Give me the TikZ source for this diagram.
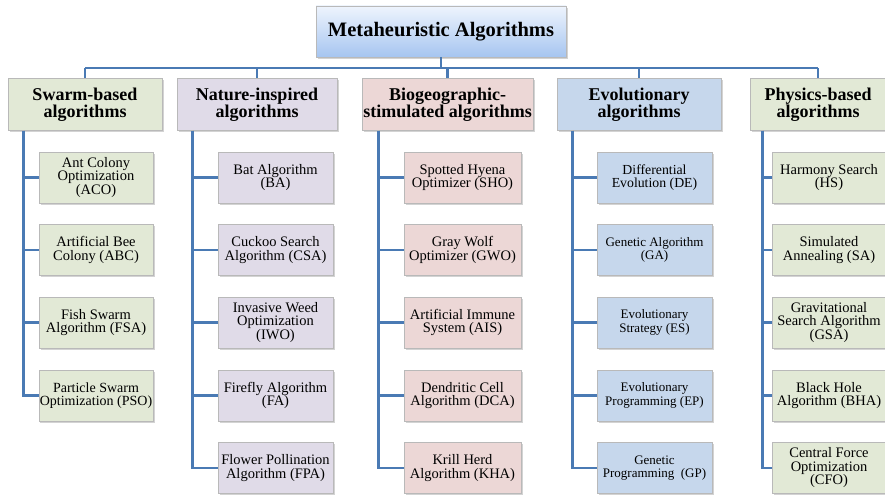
\documentclass[tikz,border=0pt]{standalone}
\usepackage{fontspec}
\setmainfont{Liberation Serif}
\usetikzlibrary{shadows}
\definecolor{linkblue}{RGB}{74,122,180}
\definecolor{sage}{RGB}{226,233,214}
\definecolor{lavender}{RGB}{224,219,232}
\definecolor{rosy}{RGB}{236,215,214}
\definecolor{skyblue}{RGB}{198,215,236}
\definecolor{titletop}{RGB}{238,244,253}
\definecolor{titlebot}{RGB}{166,197,240}
\tikzset{
  box/.style={draw=gray!55, line width=0.6pt, align=center, inner sep=1pt,
    drop shadow={shadow xshift=1.6pt, shadow yshift=-1.6pt, opacity=0.35, fill=gray}},
  head/.style={box, minimum height=52pt, font=\fontsize{18}{16.5}\selectfont\bfseries},
  leaf/.style={box, minimum height=51pt, font=\fontsize{14.5}{13.5}\selectfont},
  small/.style={font=\fontsize{13}{13.5}\selectfont},
  link/.style={draw=linkblue, line width=2.8pt},
}
\begin{document}
\begin{tikzpicture}[x=1pt,y=-1pt]
\useasboundingbox (0,0) rectangle (885,495);
\node[box, minimum width=250pt, minimum height=51pt, top color=titletop, bottom color=titlebot,
  font=\fontsize{20.5}{22}\selectfont\bfseries] (meta) at (441,31.5) {Metaheuristic Algorithms};

\node[head, fill=sage, minimum width=154pt] (swarm) at (85,104.5) {Swarm-based\\algorithms};
\node[head, fill=lavender, minimum width=160pt] (nature) at (257,104.5) {Nature-inspired\\algorithms};
\node[head, fill=rosy, minimum width=171pt] (bio) at (447.5,104.5) {Biogeographic-\\stimulated algorithms};
\node[head, fill=skyblue, minimum width=164pt] (evol) at (639,104.5) {Evolutionary\\algorithms};
\node[head, fill=sage, minimum width=136pt] (phys) at (818,104.5) {Physics-based\\algorithms};

\node[leaf, fill=sage, minimum width=114pt] (aco) at (96,177.5) {Ant Colony\\Optimization\\(ACO)};
\node[leaf, fill=sage, minimum width=114pt] (abc) at (96,250) {Artificial Bee\\Colony (ABC)};
\node[leaf, fill=sage, minimum width=114pt] (fsa) at (96,322.5) {Fish Swarm\\Algorithm (FSA)};
\node[leaf, fill=sage, minimum width=114pt, font=\fontsize{14}{13.5}\selectfont] (pso) at (96,395.5) {Particle Swarm\\Optimization (PSO)};

\node[leaf, fill=lavender, minimum width=115pt] (ba) at (275.5,177.5) {Bat Algorithm\\(BA)};
\node[leaf, fill=lavender, minimum width=115pt] (csa) at (275.5,250) {Cuckoo Search\\Algorithm (CSA)};
\node[leaf, fill=lavender, minimum width=115pt] (iwo) at (275.5,322.5) {Invasive Weed\\Optimization\\(IWO)};
\node[leaf, fill=lavender, minimum width=115pt] (fa) at (275.5,395.5) {Firefly Algorithm\\(FA)};
\node[leaf, fill=lavender, minimum width=115pt] (fpa) at (275.5,468) {Flower Pollination\\Algorithm (FPA)};

\node[leaf, fill=rosy, minimum width=117pt] (sho) at (462.5,177.5) {Spotted Hyena\\Optimizer (SHO)};
\node[leaf, fill=rosy, minimum width=117pt] (gwo) at (462.5,250) {Gray Wolf\\Optimizer (GWO)};
\node[leaf, fill=rosy, minimum width=117pt] (ais) at (462.5,322.5) {Artificial Immune\\System (AIS)};
\node[leaf, fill=rosy, minimum width=117pt] (dca) at (462.5,395.5) {Dendritic Cell\\Algorithm (DCA)};
\node[leaf, fill=rosy, minimum width=117pt] (kha) at (462.5,468) {Krill Herd\\Algorithm (KHA)};

\node[leaf, fill=skyblue, minimum width=115pt, font=\fontsize{13.8}{13.5}\selectfont] (de) at (654.5,177.5) {Differential\\Evolution (DE)};
\node[leaf, fill=skyblue, minimum width=115pt, small] (ga) at (654.5,250) {Genetic Algorithm\\(GA)};
\node[leaf, fill=skyblue, minimum width=115pt, small] (es) at (654.5,322.5) {Evolutionary\\Strategy (ES)};
\node[leaf, fill=skyblue, minimum width=115pt, small] (ep) at (654.5,395.5) {Evolutionary\\Programming (EP)};
\node[leaf, fill=skyblue, minimum width=115pt, small] (gp) at (654.5,468) {Genetic\\Programming\ \ (GP)};

\node[leaf, fill=sage, minimum width=114pt] (hs) at (829,177.5) {Harmony Search\\(HS)};
\node[leaf, fill=sage, minimum width=114pt] (sa) at (829,250) {Simulated\\Annealing (SA)};
\node[leaf, fill=sage, minimum width=114pt] (gsa) at (829,322.5) {Gravitational\\Search Algorithm\\(GSA)};
\node[leaf, fill=sage, minimum width=114pt] (bha) at (829,395.5) {Black Hole\\Algorithm (BHA)};
\node[leaf, fill=sage, minimum width=114pt] (cfo) at (829,468) {Central Force\\Optimization\\(CFO)};

\coordinate (bus) at (0,68);
\draw[link] (meta.south) -- (meta.south |- bus);
\draw[link] (swarm.north |- bus) -- (phys.north |- bus);
\foreach \c in {swarm,nature,bio,evol,phys}
  \draw[link] (\c.north |- bus) -- (\c.north);

\foreach \l in {aco,abc,fsa,pso}
  \draw[link] ([xshift=16pt]swarm.south west) |- (\l.west);
\foreach \l in {ba,csa,iwo,fa,fpa}
  \draw[link] ([xshift=16pt]nature.south west) |- (\l.west);
\foreach \l in {sho,gwo,ais,dca,kha}
  \draw[link] ([xshift=17pt]bio.south west) |- (\l.west);
\foreach \l in {de,ga,es,ep,gp}
  \draw[link] ([xshift=16pt]evol.south west) |- (\l.west);
\foreach \l in {hs,sa,gsa,bha,cfo}
  \draw[link] ([xshift=13pt]phys.south west) |- (\l.west);
\end{tikzpicture}
\end{document}
